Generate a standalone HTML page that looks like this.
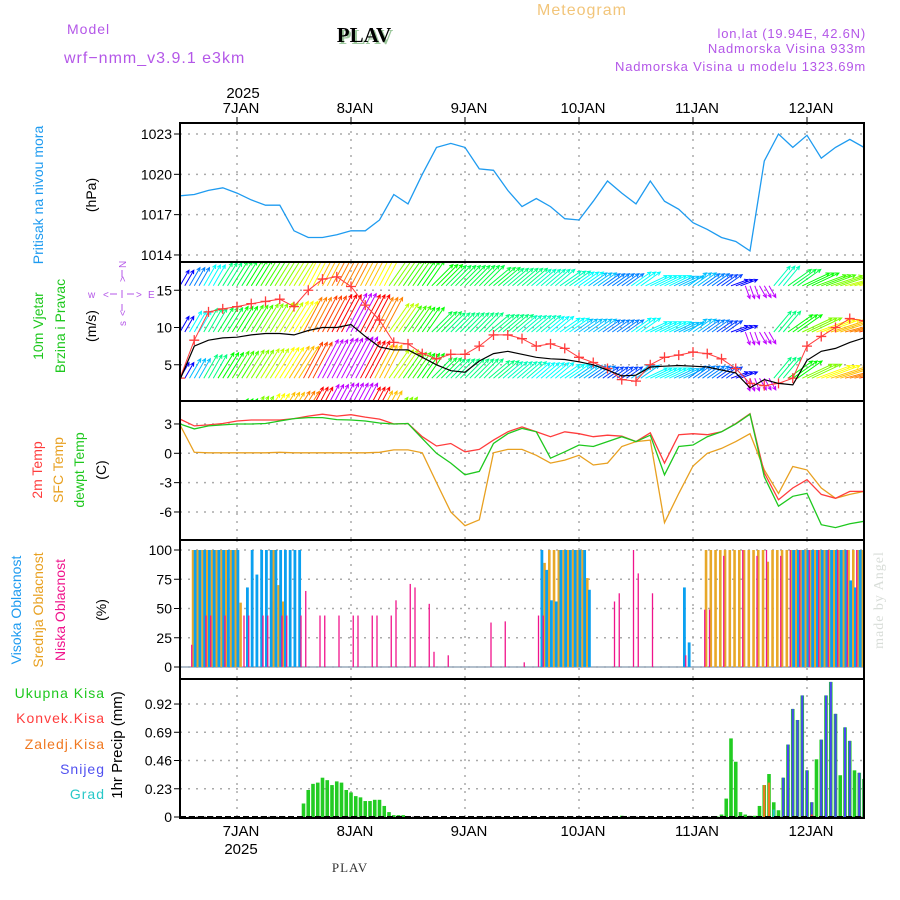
<!DOCTYPE html>
<html><head><meta charset="utf-8"><title>Meteogram PLAV</title>
<style>
html,body{margin:0;padding:0;background:#fff;}
svg{display:block;font-family:"Liberation Sans",sans-serif;}
</style></head>
<body>
<svg id="chart" width="900" height="900" viewBox="0 0 900 900" xmlns="http://www.w3.org/2000/svg">
<defs>
<clipPath id="cp1"><rect x="180" y="123" width="684" height="139"/></clipPath>
<clipPath id="cp2"><rect x="180" y="263" width="684" height="138"/></clipPath>
<clipPath id="cp3"><rect x="180" y="402" width="684" height="138"/></clipPath>
<clipPath id="cp4"><rect x="180" y="541" width="684" height="138"/></clipPath>
<clipPath id="cp5"><rect x="180" y="680" width="684" height="138"/></clipPath>
</defs>
<rect x="0" y="0" width="900" height="900" fill="#fff"/>
<text x="582" y="15" font-size="16" fill="#f2c57a" text-anchor="middle" letter-spacing="1">Meteogram</text>
<text x="67" y="34" font-size="14" fill="#b457e8" letter-spacing="1">Model</text>
<text x="64" y="63" font-size="16" fill="#b457e8" letter-spacing="1">wrf−nmm_v3.9.1  e3km</text>
<text x="364" y="42" font-size="21" font-weight="bold" font-family="Liberation Serif,serif" fill="#9cc89c" text-anchor="middle" transform="translate(2,2)">PLAV</text>
<text x="364" y="42" font-size="21" font-weight="bold" font-family="Liberation Serif,serif" fill="#000" text-anchor="middle">PLAV</text>
<text x="866" y="38" font-size="13" fill="#b457e8" text-anchor="end" letter-spacing="0.8">lon,lat (19.94E, 42.6N)</text>
<text x="866" y="53" font-size="13" fill="#b457e8" text-anchor="end" letter-spacing="0.8">Nadmorska Visina 933m</text>
<text x="866" y="71" font-size="13" fill="#b457e8" text-anchor="end" letter-spacing="0.8">Nadmorska Visina u modelu 1323.69m</text>
<text x="243" y="98" font-size="15" fill="#000" text-anchor="middle">2025</text>
<text x="350" y="872" font-size="13" font-family="Liberation Serif,serif" fill="#333" text-anchor="middle" letter-spacing="1">PLAV</text>
<text x="883" y="600" font-size="14" font-family="Liberation Serif,serif" fill="#d8ddd8" text-anchor="middle" transform="rotate(-90 883 600)" letter-spacing="1">made by Angel</text>

<text x="43" y="195" font-size="14" fill="#1e9bf0" text-anchor="middle" transform="rotate(-90 43 195)">Pritisak na nivou mora</text>
<text x="96" y="195" font-size="14" fill="#000" text-anchor="middle" transform="rotate(-90 96 195)">(hPa)</text>
<text x="43" y="326" font-size="14" fill="#1ec81e" text-anchor="middle" transform="rotate(-90 43 326)">10m Vjetar</text>
<text x="65" y="326" font-size="14" fill="#1ec81e" text-anchor="middle" transform="rotate(-90 65 326)">Brzina i Pravac</text>
<text x="96" y="326" font-size="14" fill="#000" text-anchor="middle" transform="rotate(-90 96 326)">(m/s)</text>
<g fill="#b457e8" font-size="10">
<text x="88" y="298">w</text>
<text x="103" y="298">&lt;</text>
<text x="148" y="298">E</text>
<text x="136" y="298">&gt;</text>
<line x1="110" y1="294" x2="117" y2="294" stroke="#b457e8"/>
<line x1="127" y1="294" x2="134" y2="294" stroke="#b457e8"/>
<line x1="122" y1="270" x2="122" y2="277" stroke="#b457e8"/>
<line x1="122" y1="290" x2="122" y2="298" stroke="#b457e8"/>
<line x1="122" y1="304" x2="122" y2="311" stroke="#b457e8"/>
<text x="126" y="268" transform="rotate(-90 126 268)">N</text>
<text x="126" y="282" transform="rotate(-90 126 282)">&gt;</text>
<text x="126" y="316" transform="rotate(-90 126 316)">&lt;</text>
<text x="126" y="326" transform="rotate(-90 126 326)">s</text>
</g>
<text x="42" y="470" font-size="14" fill="#ff3c3c" text-anchor="middle" transform="rotate(-90 42 470)">2m Temp</text>
<text x="63" y="470" font-size="14" fill="#e8a020" text-anchor="middle" transform="rotate(-90 63 470)">SFC Temp</text>
<text x="84" y="470" font-size="14" fill="#1ec81e" text-anchor="middle" transform="rotate(-90 84 470)">dewpt Temp</text>
<text x="106" y="470" font-size="14" fill="#000" text-anchor="middle" transform="rotate(-90 106 470)">(C)</text>
<text x="21" y="610" font-size="14" fill="#1e9bf0" text-anchor="middle" transform="rotate(-90 21 610)">Visoka Oblacnost</text>
<text x="43" y="610" font-size="14" fill="#e8a020" text-anchor="middle" transform="rotate(-90 43 610)">Srednja Oblacnost</text>
<text x="65" y="610" font-size="14" fill="#f0148c" text-anchor="middle" transform="rotate(-90 65 610)">Niska Oblacnost</text>
<text x="106" y="610" font-size="14" fill="#000" text-anchor="middle" transform="rotate(-90 106 610)">(%)</text>
<text x="105" y="698" font-size="14" fill="#1ec81e" text-anchor="end" letter-spacing="1">Ukupna Kisa</text>
<text x="105" y="723" font-size="14" fill="#ff3c3c" text-anchor="end" letter-spacing="1">Konvek.Kisa</text>
<text x="105" y="749" font-size="14" fill="#f07820" text-anchor="end" letter-spacing="1">Zaledj.Kisa</text>
<text x="105" y="774" font-size="14" fill="#5050f0" text-anchor="end" letter-spacing="1">Snijeg</text>
<text x="105" y="799" font-size="14" fill="#28c8c8" text-anchor="end" letter-spacing="1">Grad</text>
<text x="122" y="745" font-size="15" fill="#000" text-anchor="middle" transform="rotate(-90 122 745)">1hr Precip (mm)</text>
<g id="plots"></g>
</svg>
<script>
const timeHours3 = [0,3,6,9,12,15,18,21,24,27,30,33,36,39,42,45,48,51,54,57,60,63,66,69,72,75,78,81,84,87,90,93,96,99,102,105,108,111,114,117,120,123,126,129,132,135,138,141,144];
const pressure = [1018.4,1018.5,1018.8,1019.0,1018.6,1018.1,1017.7,1017.7,1015.8,1015.3,1015.3,1015.5,1015.8,1015.8,1016.6,1018.5,1017.8,1020.0,1022.0,1022.3,1022.0,1020.4,1020.3,1018.8,1017.6,1018.2,1017.6,1016.7,1016.6,1018.0,1019.5,1018.6,1017.8,1019.5,1018.0,1017.4,1016.4,1015.9,1015.3,1015.0,1014.3,1021.0,1023.0,1022.0,1022.9,1021.2,1022.0,1022.6,1022.0];
const windSpeed = [3.0,7.5,8.3,8.6,8.7,9.0,9.2,9.2,9.0,9.6,10.0,10.0,10.4,8.8,7.4,7.0,7.0,6.0,5.0,4.2,4.0,5.5,6.5,6.8,6.4,6.0,5.8,5.7,5.4,5.0,4.3,3.5,3.6,4.7,4.8,4.9,4.8,4.7,4.3,3.9,1.9,3.0,2.5,2.3,5.6,6.8,7.2,8.0,8.6];
const windGust = [3.2,8.3,12.1,12.5,12.8,13.2,13.5,13.8,12.8,15.0,16.5,16.8,15.5,13.0,11.0,8.0,7.8,6.5,5.8,6.4,6.4,7.5,9.0,9.0,8.5,7.5,7.8,7.2,6.0,5.3,4.5,3.0,2.8,5.0,6.0,6.3,6.7,6.5,5.8,4.5,2.5,2.2,2.5,3.2,7.5,8.8,10.0,11.2,10.9];
const windDir = [30,30,30,32,32,32,32,32,32,28,28,28,28,28,28,35,35,35,45,45,45,45,50,50,50,50,50,55,55,55,55,55,55,65,65,65,55,55,55,70,160,150,40,55,65,70,72,75,75];
const topSpd = [6,7,8,9,9.5,10,10.5,11,11.5,12,12.5,13,13,12.5,12,11,10.5,10,10,9.5,9.5,9.5,9.5,9,9,8.5,8.5,8.5,8,7.5,7,7,8,8,8,7.5,7.5,7,6.5,6,4.5,4.5,8.5,9.5,10,10.5,11,11.5,12];
const midSpd = [6,8,9,9.5,10,10.5,11,11.5,12,13,13.5,14,14.5,14,13,11.5,10.5,10,9.5,9,9,9,9,9,8.5,8.5,8,8,7.5,7.5,7,7,8,8,8,7.5,7.5,7,6.5,6,4.5,4.5,9,10,11,12,12.5,13,13.5];
const lowSpd = [6,7.5,9,10,10.5,11,11.5,12,12.5,13.5,14.5,15,15.5,14,12.5,11.5,10.5,10,9.5,9,9,9,9,8.5,8.5,8,8,8,7.5,7,6.5,6.5,7.5,8,8,7.5,7,7,6.5,6,4.5,4.5,9,10,11,12,12.5,13,13.5];
const botSpd = [5,6,8,9,10,11,12,12.5,13,14,15,15.5,15.5,14,12.5,11,9,7,6,6,5,5,5,5,5,5,5,5,5,5,5,5,5,5,5,5,5,5,5,5,5,5,5,5,5,5,5,5,5];
const temp2m = [3.5,2.8,2.9,3.05,3.3,3.4,3.4,3.4,3.55,3.8,4.0,3.8,3.95,3.7,3.5,3.0,3.05,1.7,0.75,1.0,0.15,0.4,1.35,2.2,2.7,2.2,1.7,2.2,2.0,1.7,1.85,1.75,1.2,2.1,-1.0,1.9,2.0,1.9,2.2,3.05,4.05,-2.0,-4.75,-3.55,-2.7,-4.2,-4.6,-3.9,-3.9];
const tempSfc = [2.9,0.1,0.05,0.05,0.05,0.05,0.05,0.1,0.05,0.05,0.05,0.05,0.05,0.05,0.1,0.35,0.35,0.05,-3.0,-6.0,-7.4,-6.8,0.05,0.4,0.4,-0.2,-1.0,-0.7,-0.2,-1.2,-1.0,0.7,1.2,1.35,-7.1,-4.1,-1.3,0,0.5,1.2,2.0,-1.7,-4.1,-1.35,-1.7,-3.55,-4.6,-4.2,-3.9];
const dewpoint = [3.0,2.5,2.8,2.9,3.0,3.0,3.05,3.3,3.55,3.65,3.65,3.45,3.4,3.3,3.1,3.0,3.05,1.5,0,-1.0,-2.2,-1.85,1.0,2.0,2.55,2.2,-0.5,0.15,0.85,0.7,1.2,1.7,1.2,1.85,-2.2,0.7,0.85,1.7,2.2,3.0,4.0,-2.4,-5.4,-4.4,-4.1,-7.3,-7.6,-7.2,-6.95];
const highHours = [3,4,5,6,7,8,9,10,11,12,14,15,16,17,18,19,20,21,22,23,24,25,76,77,78,79,80,81,82,83,84,85,86,106,107,129,130,131,132,133,134,135,136,137,138,139,140,141,142,143,144];
const highVals = [100,100,100,100,100,100,100,100,100,100,68,100,79,100,100,100,100,100,100,100,100,100,100,83,57,56,100,100,100,100,100,100,66,68,21,100,100,100,100,100,100,100,100,100,100,100,100,74,68,100,56];
const midHours = [3,4,5,6,7,8,9,10,11,12,13,20,21,22,77,78,79,80,81,82,83,84,85,86,111,112,113,114,115,116,117,118,119,120,121,122,123,124,125,126,127,128,129,130,131,132,133,134,135,136,137,138,139,140,141,142,143,144];
const midVals = [100,100,100,100,100,100,100,100,100,100,55,100,70,56,89,100,100,100,100,100,100,100,100,76,100,100,100,100,100,100,100,100,100,100,100,100,100,90,100,100,100,100,100,100,100,100,100,100,100,100,100,100,100,100,100,100,100,100];
const lowHours = [2,5,6,9,13,14,17,18,21,22,25,26,29,30,33,36,37,40,41,44,45,48,49,52,53,56,65,68,72,75,76,91,92,95,96,99,106,110,111,114,118,121,123,126,128,130,132,134,136,138,140,142,144];
const lowVals = [19,44,44,44,44,44,44,44,44,44,44,65,44,44,44,44,44,44,44,44,57,71,68,54,13,10,38,39,4,44,44,56,63,100,80,63,10,49,49,95,100,95,100,95,100,100,100,100,100,100,100,100,100];
const totalHours = [26,27,28,29,30,31,32,33,34,35,36,37,38,39,40,41,42,43,44,45,46,47,48,93,113,114,115,116,117,118,119,120,121,122,123,124,125,126,127,128,129,130,131,132,133,134,135,136,137,138,139,140,141,142,143,144];
const totalVals = [0.11,0.22,0.27,0.28,0.32,0.30,0.26,0.29,0.28,0.22,0.20,0.17,0.16,0.13,0.13,0.14,0.14,0.09,0.04,0.015,0.015,0.015,0.005,0.01,0.005,0.02,0.15,0.64,0.45,0.04,0.02,0.01,0.01,0.09,0.26,0.35,0.12,0.055,0.32,0.59,0.88,0.79,0.99,0.38,0.12,0.47,0.63,0.99,1.10,0.84,0.34,0.73,0.62,0.38,0.36,0.31];
const snowHours = [127,128,129,130,131,132,133,135,136,137,138,140,141,143,144];
const snowVals = [0.32,0.59,0.88,0.79,0.99,0.38,0.12,0.63,0.99,1.10,0.84,0.73,0.62,0.36,0.31];
const freezeHours = [123,124];
const freezeVals = [0.26,0.28];
const hailHours = [125];
const hailVals = [0.06];
const convHours = [133];
const convVals = [0.02];
const dayHours = [12,36,60,84,108,132];
const dayLabels = ['7JAN','8JAN','9JAN','10JAN','11JAN','12JAN'];
const pTicks = [1014,1017,1020,1023];
const wTicks = [5,10,15];
const tTicks = [-6,-3,0,3];
const cTicks = [0,25,50,75,100];
const rTicks = [0,0.23,0.46,0.69,0.92];
const rTickLabels = ['0','0.23','0.46','0.69','0.92'];

const X = h => 180 + h*4.75;
const yP = p => 134 + (1023-p)*13.44;
const yW = v => 402 - v*7.45;
const yT = t => 453.3 - t*9.78;
const yC = c => 667 - c*1.17;
const yR = r => 817 - r*122.8;

const NS='http://www.w3.org/2000/svg';
const root=document.getElementById('plots');
function mk(tag,attrs,parent){const e=document.createElementNS(NS,tag);for(const k in attrs)e.setAttribute(k,attrs[k]);(parent||root).appendChild(e);return e;}
function hueFor(s){let h=300-(s-4)*30; if(h<0) h=Math.max(330,360+h); return Math.min(h,285);}

const panels=[[123,262],[262,401],[401,540],[540,679],[679,818]];
panels.forEach((p,i)=>{
  dayHours.forEach(d=>{
    const g=mk('line',{x1:X(d),x2:X(d),y1:p[0],y2:p[1],stroke:'#aaa','stroke-width':1.5,'stroke-dasharray':'2,6'});
    
    
  });
});
function hgrid(vals,fy,labels){
  vals.forEach((v,i)=>{
    const l=mk('line',{x1:180,x2:864,y1:fy(v),y2:fy(v),stroke:'#aaa','stroke-width':1.5,'stroke-dasharray':'2,6'});
    
    
    const tk=mk('line',{x1:174,x2:180,y1:fy(v),y2:fy(v),stroke:'#000','stroke-width':1});
    
    
    const t=mk('text',{x:172,y:fy(v)+5,'font-size':14,'text-anchor':'end',fill:'#000'});
    t.textContent=labels?labels[i]:String(v);
    
    
  });
}
hgrid(pTicks,yP); hgrid(wTicks,yW); hgrid(tTicks,yT); hgrid(cTicks,yC); hgrid(rTicks,yR,rTickLabels);

dayHours.forEach((d,i)=>{
  const a=mk('text',{x:X(d)+4,y:113,'font-size':15,'text-anchor':'middle',fill:'#000'});
  a.textContent=dayLabels[i];
  
  
  const b=mk('text',{x:X(d)+4,y:836,'font-size':15,'text-anchor':'middle',fill:'#000'});
  b.textContent=dayLabels[i];
  
  
  const t1=mk('line',{x1:X(d),x2:X(d),y1:117,y2:123,stroke:'#000'});
  
  
});
const yb=mk('text',{x:X(12)+4,y:854,'font-size':15,'text-anchor':'middle',fill:'#000'});
yb.textContent='2025';



function pathFrom(vals,fy){return vals.map((v,i)=>(i?'L':'M')+X(timeHours3[i]).toFixed(1)+' '+fy(v).toFixed(1)).join(' ');}

const g1=mk('g',{'clip-path':'url(#cp1)'});
const pl=mk('path',{d:pathFrom(pressure,yP),fill:'none',stroke:'#1e9bf0','stroke-width':1.3},g1);



const g2=mk('g',{'clip-path':'url(#cp2)'});
const levels=[[topSpd,15.6],[midSpd,9.4],[lowSpd,3.2],[botSpd,-3]];
levels.forEach(([spd,base])=>{
  for(let h=0;h<=144;h++){
    const k=Math.min(48,Math.round(h/3));
    const s=spd[k], th=windDir[k]*Math.PI/180, L=s*3;
    const x0=X(h), y0=yW(base);
    const x1=x0+L*Math.sin(th), y1=y0-L*Math.cos(th);
    const a1=th+Math.PI-0.45, a2=th+Math.PI+0.45;
    const d=`M${x0.toFixed(1)} ${y0.toFixed(1)}L${x1.toFixed(1)} ${y1.toFixed(1)}M${(x1+4*Math.sin(a1)).toFixed(1)} ${(y1-4*Math.cos(a1)).toFixed(1)}L${x1.toFixed(1)} ${y1.toFixed(1)}L${(x1+4*Math.sin(a2)).toFixed(1)} ${(y1-4*Math.cos(a2)).toFixed(1)}`;
    const ar=mk('path',{d:d,fill:'none',stroke:`hsl(${hueFor(s)},100%,50%)`,'stroke-width':1},g2);
    
    
  }
});
const gl=mk('path',{d:pathFrom(windGust,yW),fill:'none',stroke:'#ff3c3c','stroke-width':1},g2);


windGust.forEach((v,i)=>{
  const x=X(timeHours3[i]), y=yW(v);
  const m=mk('path',{d:`M${x-5} ${y}H${x+5}M${x} ${y-5}V${y+5}`,stroke:'#ff3c3c','stroke-width':1.3},g2);
  
  
});
const wl=mk('path',{d:pathFrom(windSpeed,yW),fill:'none',stroke:'#000','stroke-width':1.2},g2);



const g3=mk('g',{'clip-path':'url(#cp3)'});
const ts=mk('path',{d:pathFrom(tempSfc,yT),fill:'none',stroke:'#e8a020','stroke-width':1.3},g3);


const t2=mk('path',{d:pathFrom(temp2m,yT),fill:'none',stroke:'#ff3c3c','stroke-width':1.3},g3);


const td=mk('path',{d:pathFrom(dewpoint,yT),fill:'none',stroke:'#1ec81e','stroke-width':1.3},g3);



const g4=mk('g',{'clip-path':'url(#cp4)'});
const cb=mk('line',{x1:180,x2:864,y1:yC(0),y2:yC(0),stroke:'#9ab','stroke-width':1.5},g4);


midHours.forEach((h,i)=>{
  const r=mk('rect',{x:X(h)-2.5,y:yC(midVals[i]),width:2.6,height:yC(0)-yC(midVals[i]),fill:'#e8a828'},g4);
  
  
});
highHours.forEach((h,i)=>{
  const r=mk('rect',{x:X(h)-0.5,y:yC(highVals[i]),width:2.8,height:yC(0)-yC(highVals[i]),fill:'#0aa0f0'},g4);
  
  
});
lowHours.forEach((h,i)=>{
  const r=mk('rect',{x:X(h)+1.6,y:yC(lowVals[i]),width:1.3,height:yC(0)-yC(lowVals[i]),fill:'#f0148c'},g4);
  
  
});

const g5=mk('g',{'clip-path':'url(#cp5)'});
function bars(hours,vals,color,w,name){
  hours.forEach((h,i)=>{
    const r=mk('rect',{x:X(h)-w/2,y:yR(vals[i]),width:w,height:yR(0)-yR(vals[i]),fill:color},g5);
    
    
  });
}
bars(totalHours,totalVals,'#22cc22',3.6,'total-precip-bar');
bars(snowHours,snowVals,'#4848f0',2.2,'snow-bar');
bars(freezeHours,freezeVals,'#f07820',2.2,'freezing-rain-bar');
bars(hailHours,hailVals,'#28c8c8',2.2,'hail-bar');
bars(convHours,convVals,'#ff3c3c',2.2,'convective-bar');
const pb=mk('line',{x1:180,x2:864,y1:817,y2:817,stroke:'#000','stroke-width':2,'stroke-dasharray':'6,3'});



panels.forEach(p=>{
  const f=mk('rect',{x:180,y:p[0],width:684,height:p[1]-p[0],fill:'none',stroke:'#000','stroke-width':2});
  
  
});
</script>
</body></html>
